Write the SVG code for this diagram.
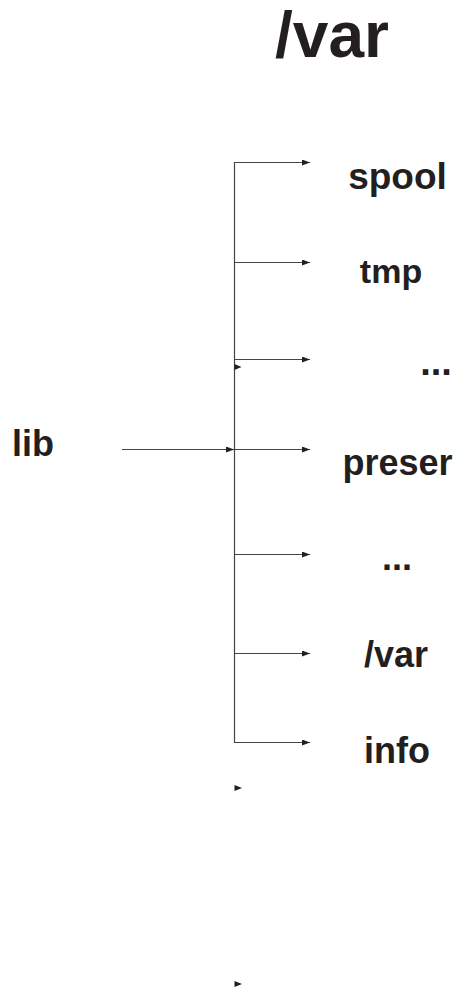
<svg xmlns="http://www.w3.org/2000/svg" width="457" height="989" viewBox="0 0 457 989">
<style>
.t{font-family:"Liberation Sans",Arial,sans-serif;font-weight:bold;fill:#231f20;text-anchor:middle}
.c{stroke:#444;stroke-width:1.2;fill:none}
.h{fill:#231f20}
</style>
<defs>
<marker id="ah" markerWidth="8" markerHeight="6" refX="8" refY="3" orient="auto" markerUnits="userSpaceOnUse">
<path d="M0,0 L8,3 L0,6 Z" fill="#231f20"/>
</marker>
</defs>
<rect width="457" height="989" fill="#fff"/>
<g id="title"><text class="t" x="332" y="57" font-size="64">/var</text></g>
<g id="n-spool"><text class="t" x="397.5" y="189" font-size="37">spool</text></g>
<g id="n-tmp"><text class="t" x="391" y="283" font-size="34">tmp</text></g>
<g id="n-dots1"><text class="t" x="436" y="375" font-size="38">...</text></g>
<g id="n-preser"><text class="t" x="397.5" y="475" font-size="36">preser</text></g>
<g id="n-dots2"><text class="t" x="397" y="570" font-size="36">...</text></g>
<g id="n-var"><text class="t" x="396" y="667" font-size="36">/var</text></g>
<g id="n-info"><text class="t" x="397" y="763" font-size="36">info</text></g>
<g id="n-lib"><text class="t" x="33" y="456" font-size="36">lib</text></g>
<g id="connectors">
<line class="c" x1="234.5" y1="162" x2="234.5" y2="743"/>
<line class="c" x1="234.5" y1="162.5" x2="310" y2="162.5" marker-end="url(#ah)"/>
<line class="c" x1="234.5" y1="262.5" x2="310" y2="262.5" marker-end="url(#ah)"/>
<line class="c" x1="234.5" y1="359.5" x2="310" y2="359.5" marker-end="url(#ah)"/>
<line class="c" x1="234.5" y1="449.5" x2="310" y2="449.5" marker-end="url(#ah)"/>
<line class="c" x1="234.5" y1="554.5" x2="310" y2="554.5" marker-end="url(#ah)"/>
<line class="c" x1="234.5" y1="653.5" x2="310" y2="653.5" marker-end="url(#ah)"/>
<line class="c" x1="234.5" y1="742.5" x2="310" y2="742.5" marker-end="url(#ah)"/>
<line class="c" x1="122" y1="449.5" x2="234" y2="449.5" marker-end="url(#ah)"/>
<path class="h" d="M234.5,364 L241.5,367 L234.5,370 Z"/>
<path class="h" d="M234.5,785 L242,788 L234.5,791 Z"/>
<path class="h" d="M234.5,981 L242,984 L234.5,987 Z"/>
</g>
</svg>
